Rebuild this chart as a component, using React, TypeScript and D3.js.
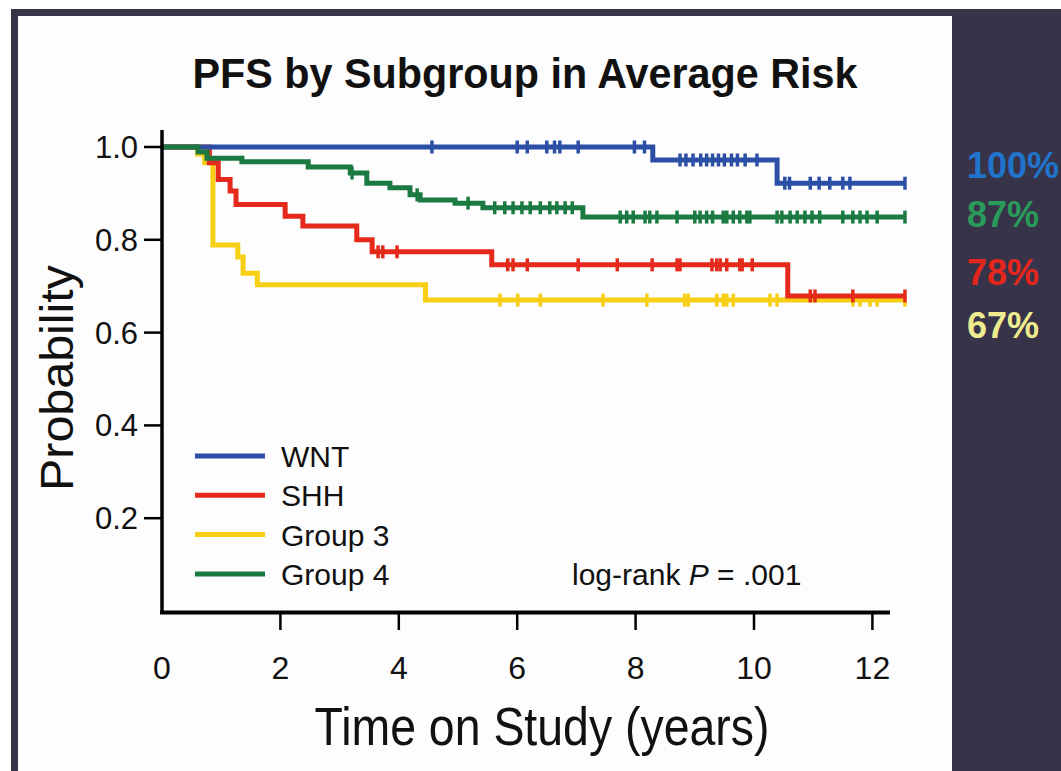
import React from 'react';
import * as d3 from 'd3';

const W = 1061;
const H = 771;

const title = 'PFS by Subgroup in Average Risk';
const xTitle = 'Time on Study (years)';
const yTitle = 'Probability';
const xTicks = [0, 2, 4, 6, 8, 10, 12];
const yTicks = [0.2, 0.4, 0.6, 0.8, 1.0];
const yTickLabels = ['0.2', '0.4', '0.6', '0.8', '1.0'];
const endTime = 12.55;

const groups = ['WNT', 'SHH', 'Group 3', 'Group 4'];
const groupColors = ['#2c4fa6', '#e52a1c', '#f7cf14', '#1b7a42'];
const pctLabels = ['100%', '87%', '78%', '67%'];
const pctColors = ['#2173cc', '#2a9a5a', '#e4261c', '#eeec8e'];

// Kaplan-Meier steps: [time (years), probability after event]
const wntSteps: [number, number][] = [[0, 1.0], [8.29, 0.972], [10.39, 0.922]];
const shhSteps: [number, number][] = [
  [0, 1.0], [0.8, 0.966], [0.95, 0.93], [1.15, 0.905], [1.25, 0.876], [2.08, 0.851],
  [2.38, 0.83], [3.29, 0.8], [3.55, 0.774], [5.57, 0.746], [10.57, 0.679],
];
const g3Steps: [number, number][] = [
  [0, 1.0], [0.6, 0.985], [0.72, 0.966], [0.86, 0.789], [1.28, 0.763], [1.37, 0.728],
  [1.61, 0.703], [4.45, 0.67],
];
const g4Steps: [number, number][] = [
  [0, 1.0], [0.61, 0.989], [0.76, 0.976], [1.35, 0.968], [2.47, 0.957], [3.18, 0.944],
  [3.46, 0.922], [3.85, 0.912], [4.19, 0.897], [4.36, 0.886], [4.95, 0.879], [5.42, 0.869],
  [7.11, 0.849],
];

// censor times (years)
const wntCensor = [4.56, 6.0, 6.17, 6.5, 6.63, 6.72, 7.03, 7.98, 8.15, 8.75, 8.85, 8.97, 9.1, 9.2,
  9.3, 9.4, 9.5, 9.62, 9.72, 9.85, 10.05, 10.52, 10.6, 10.95, 11.1, 11.28, 11.5, 11.62, 12.55];
const shhCensor = [3.65, 3.73, 3.97, 5.84, 5.93, 6.17, 7.03, 7.69, 8.28, 8.7, 8.75, 9.29, 9.37,
  9.43, 9.54, 9.76, 9.8, 9.97, 10.95, 11.03, 11.67, 12.55];
const g3Censor = [5.71, 6.01, 6.39, 7.45, 8.19, 8.83, 8.89, 9.37, 9.48, 9.54, 9.65, 10.27, 10.39,
  11.67, 11.79, 11.96, 12.08, 12.55];
const g4Censor = [3.21, 4.31, 5.17, 5.62, 5.79, 5.93, 6.08, 6.22, 6.39, 6.55, 6.67, 6.81, 6.93,
  7.74, 7.85, 7.96, 8.16, 8.24, 8.36, 8.7, 9.0, 9.09, 9.2, 9.3, 9.48, 9.54, 9.65, 9.76, 9.88,
  9.93, 10.39, 10.47, 10.61, 10.73, 10.86, 10.98, 11.11, 11.5, 11.67, 11.79, 11.91, 12.08, 12.55];

const allSteps = [wntSteps, shhSteps, g3Steps, g4Steps];
const allCensor = [wntCensor, shhCensor, g3Censor, g4Censor];
const drawOrder = [2, 1, 0, 3];

const x = d3.scaleLinear().domain([0, 12]).range([162, 872.4]);
const y = d3.scaleLinear().domain([0, 1]).range([611, 147]);

function probAt(steps: [number, number][], t: number) {
  let p = steps[0][1];
  for (const s of steps) if (s[0] <= t) p = s[1];
  return p;
}

const line = d3.line<[number, number]>()
  .x(d => x(d[0]))
  .y(d => y(d[1]))
  .curve(d3.curveStepAfter);

const sans = "'Liberation Sans', Arial, Helvetica, sans-serif";
const narrow = "'Liberation Sans Narrow', 'Arial Narrow', 'Liberation Sans', sans-serif";

export default function App() {
  return (
    <div style={{ position: 'absolute', left: 0, top: 0 }}>
      <svg width={W} height={H} style={{ display: 'block' }}>
        <rect x={0} y={0} width={W} height={H} fill="#ffffff" />
        <rect x={11} y={9} width={W - 11} height={H - 9} fill="#373449" />
        <rect x={18} y={16} width={934} height={H - 16} fill="#fdfdfd" />

        <text x={525} y={88} textAnchor="middle" fontFamily={narrow} fontWeight="bold" fontSize={42}
          textLength={665} lengthAdjust="spacingAndGlyphs" fill="#111">{title}</text>

        {/* curves */}
        {drawOrder.map(i => {
          const steps = allSteps[i];
          const pts: [number, number][] = [...steps, [endTime, steps[steps.length - 1][1]]];
          return (
            <g key={groups[i]}>
              <path d={line(pts) || ''} fill="none" stroke={groupColors[i]} strokeWidth={5} />
              {allCensor[i].map((t, k) => (
                <line key={k} x1={x(t)} x2={x(t)} y1={y(probAt(steps, t)) - 6.5} y2={y(probAt(steps, t)) + 6.5}
                  stroke={groupColors[i]} strokeWidth={3.5} />
              ))}
            </g>
          );
        })}

        {/* axes */}
        <line x1={162} x2={162} y1={130} y2={614} stroke="#000" strokeWidth={3.5} />
        <line x1={160} x2={890} y1={612.5} y2={612.5} stroke="#000" strokeWidth={4} />
        {yTicks.map((v, i) => (
          <g key={v}>
            <line x1={144} x2={162} y1={y(v)} y2={y(v)} stroke="#000" strokeWidth={2.5} />
            <text x={138} y={y(v) + 11} textAnchor="end" fontFamily={sans} fontSize={31} fill="#111">{yTickLabels[i]}</text>
          </g>
        ))}
        {xTicks.map(v => (
          <g key={v}>
            {v > 0 && <line x1={x(v)} x2={x(v)} y1={612} y2={630} stroke="#000" strokeWidth={2.5} />}
            <text x={x(v)} y={679} textAnchor="middle" fontFamily={narrow} fontSize={32} fill="#111">{v}</text>
          </g>
        ))}
        <text x={542} y={745} textAnchor="middle" fontFamily={narrow} fontSize={53}
          textLength={455} lengthAdjust="spacingAndGlyphs" fill="#111">{xTitle}</text>
        <text transform="translate(73,378) rotate(-90)" textAnchor="middle" fontFamily={sans} fontSize={47}
          textLength={226} lengthAdjust="spacingAndGlyphs" fill="#111">{yTitle}</text>

        {/* legend */}
        {groups.map((g, i) => (
          <g key={g}>
            <line x1={195} x2={265} y1={456 + i * 39.3} y2={456 + i * 39.3} stroke={groupColors[i]} strokeWidth={5} />
            <text x={281} y={456 + i * 39.3 + 11} fontFamily={sans} fontSize={30} fill="#111">{g}</text>
          </g>
        ))}
        <text x={572} y={585} fontFamily={sans} fontSize={30} fill="#111">
          log-rank <tspan fontStyle="italic">P</tspan> = .001
        </text>

        {/* right-side percentages */}
        {pctLabels.map((p, i) => (
          <text key={p} x={967} y={[178, 227, 285, 338][i]} fontFamily={sans} fontWeight="bold" fontSize={36}
            fill={pctColors[i]}>{p}</text>
        ))}
      </svg>
    </div>
  );
}
